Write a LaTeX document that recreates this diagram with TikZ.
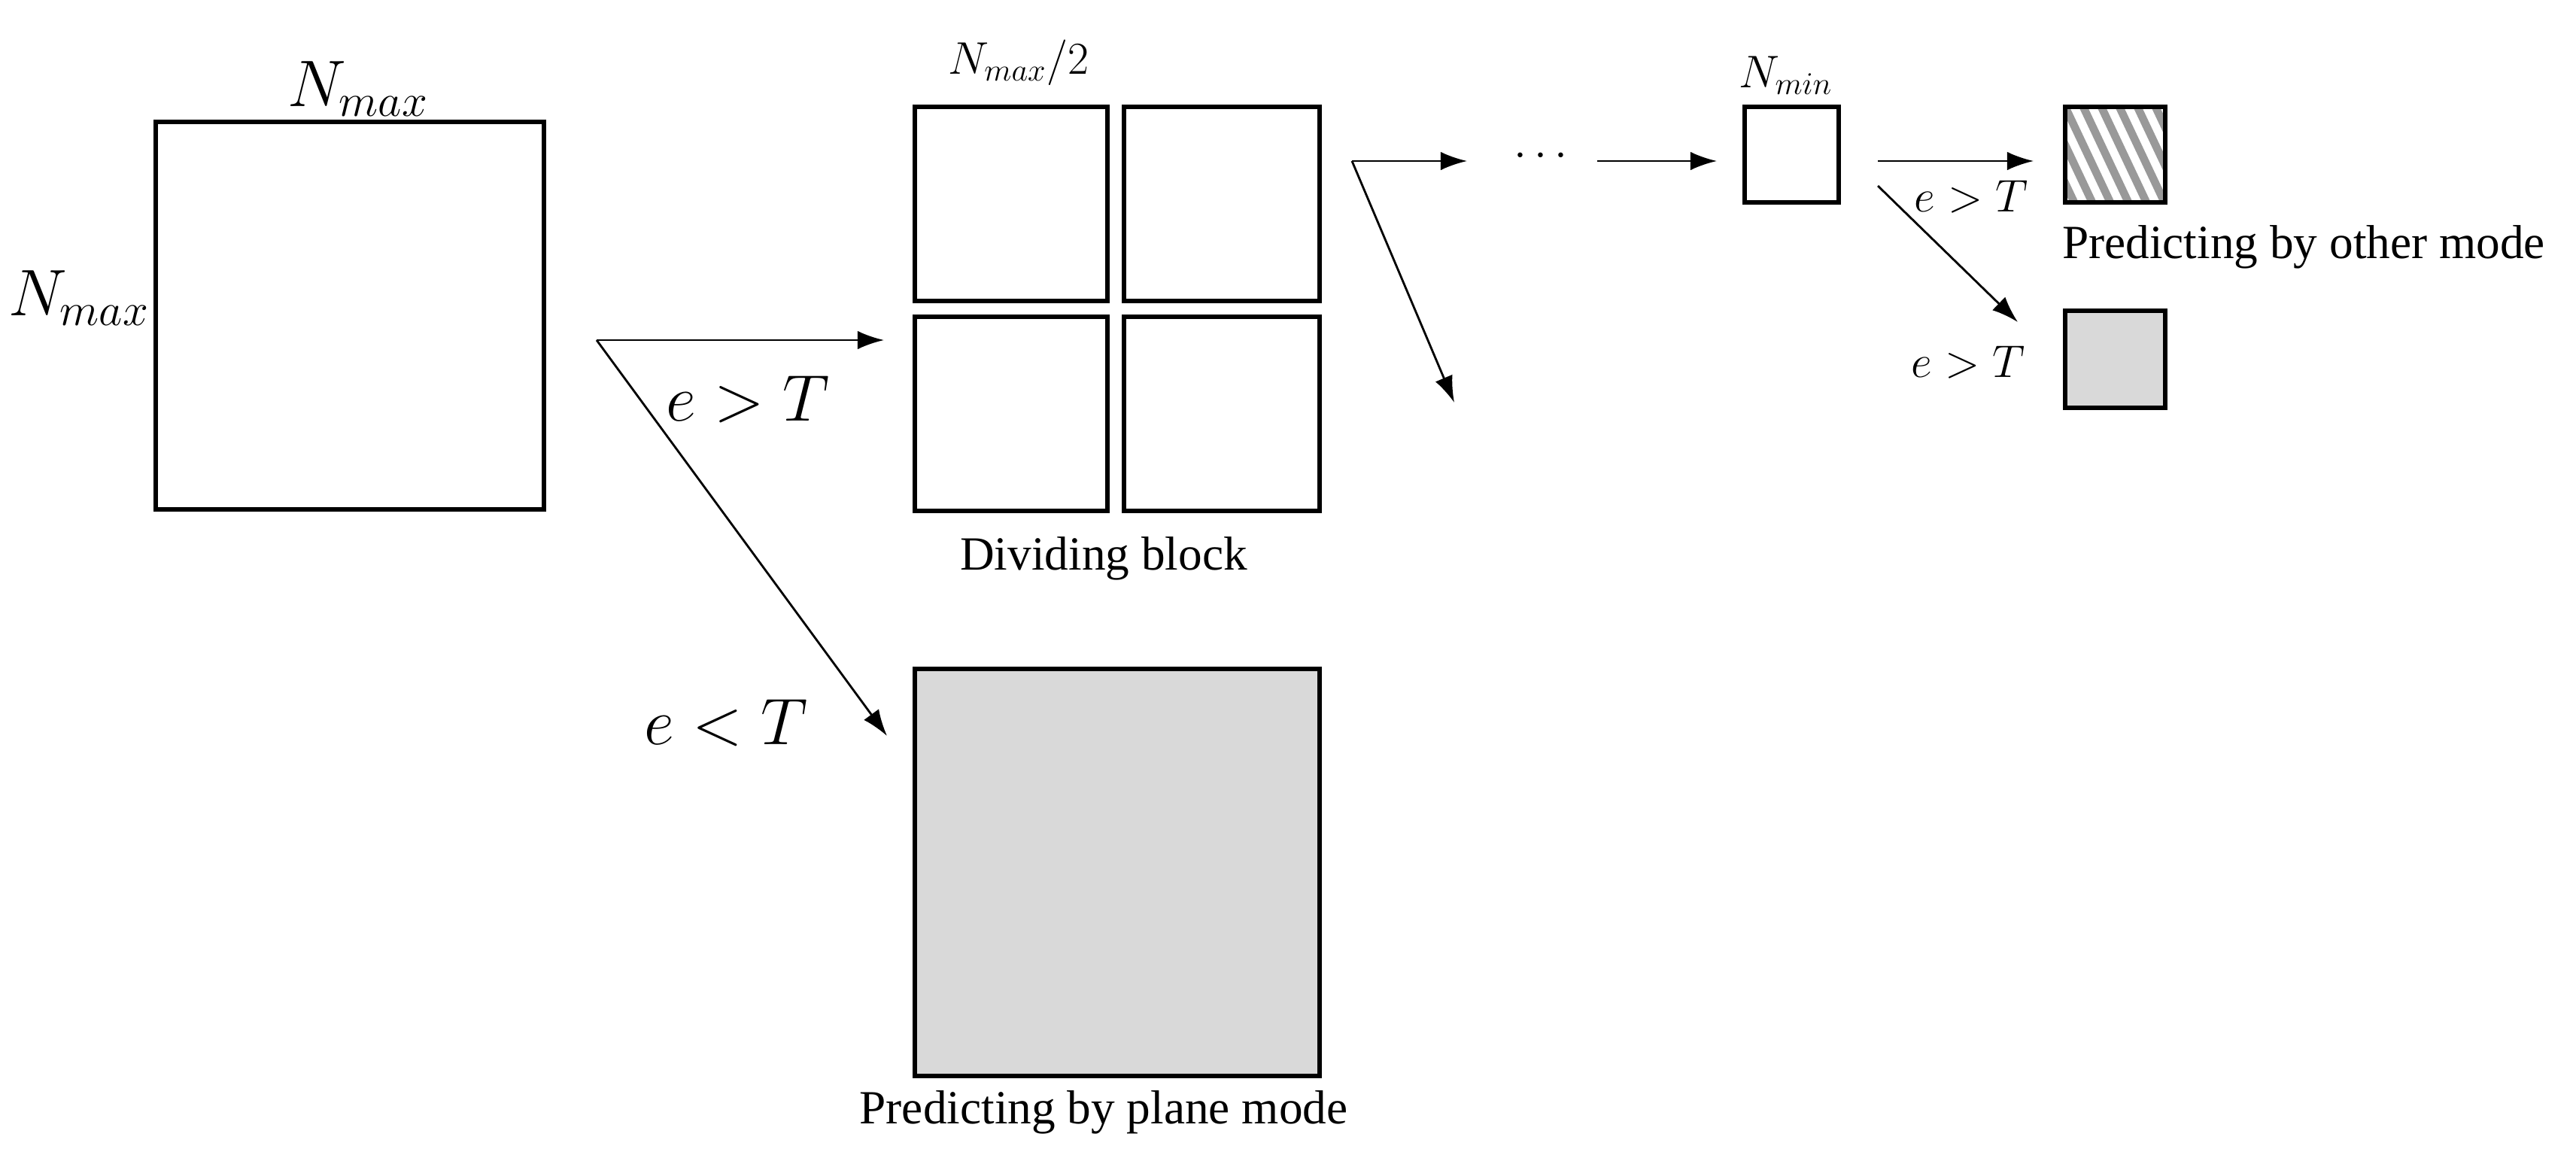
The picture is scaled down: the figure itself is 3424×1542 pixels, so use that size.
\documentclass[tikz,border=0pt]{standalone}
\usepackage{fontspec}
\setmainfont{Liberation Serif}
\usetikzlibrary{arrows.meta,patterns}
\begin{document}
\begin{tikzpicture}[x=0.01cm,y=-0.01cm,
 box/.style={draw,line width=1.5pt},
 gray/.style={box,fill={rgb,255:red,217;green,217;blue,217}},
 arr/.style={-{Latex[length=10pt,width=7pt]},line width=0.8pt},
 lab/.style={inner sep=0pt,font=\fontsize{18}{20}\selectfont},
 big/.style={inner sep=0pt,font=\fontsize{26}{28}\selectfont}]
\useasboundingbox (0,0) rectangle (3424,1542);
\draw[box] (207,162) rectangle (723,677);
\node[big] (nmt) at (476,118) {$N_{max}$};
\node[big] (nml) at (105,396) {$N_{max}$};
\draw[box] (1216,142) rectangle (1472,400);
\draw[box] (1494,142) rectangle (1754,400);
\draw[box] (1216,421) rectangle (1472,679);
\draw[box] (1494,421) rectangle (1754,679);
\node[lab] (nm2) at (1354,83) {$N_{max}/2$};
\node[lab] (div) at (1467,742) {Dividing block};
\coordinate (s1) at (793,452);
\coordinate (e1) at (1175,452);
\coordinate (e2) at (1179,978);
\draw[arr] (s1) -- (e1);
\draw[arr] (s1) -- (e2);
\node[big] (gt1) at (994,531) {$e>T$};
\node[big] (lt1) at (965,961) {$e<T$};
\draw[gray] (1216,889) rectangle (1754,1430);
\node[lab] (plane) at (1467,1478) {Predicting by plane mode};
\coordinate (s2) at (1797,214);
\coordinate (e3) at (1950,214);
\coordinate (e4) at (1933,535);
\draw[arr] (s2) -- (e3);
\draw[arr] (s2) -- (e4);
\node[lab] (dots) at (2048,208) {$\cdots$};
\coordinate (s3) at (2123,214);
\coordinate (e5) at (2282,214);
\draw[arr] (s3) -- (e5);
\draw[box] (2319,142) rectangle (2444,269);
\node[lab] (nmin) at (2374,100) {$N_{min}$};
\coordinate (s4) at (2496,214);
\coordinate (e6) at (2703,214);
\coordinate (s5) at (2496,247);
\coordinate (e7) at (2682,428);
\draw[arr] (s4) -- (e6);
\draw[arr] (s5) -- (e7);
\fill[white] (2745,142) rectangle (2878,269);
\begin{scope}
\clip (2745,142) rectangle (2878,269);
\foreach \i in {-4,...,8}
  \draw[line width=3pt,gray!80] (2745+\i*24,142) -- ++(60,127);
\end{scope}
\draw[box] (2745,142) rectangle (2878,269);
\draw[gray] (2745,413) rectangle (2878,542);
\node[lab] (gt2) at (2620,262) {$e>T$};
\node[lab] (gt3) at (2616,482) {$e>T$};
\node[lab] (other) at (3062,328) {Predicting by other mode};
\end{tikzpicture}
\end{document}
